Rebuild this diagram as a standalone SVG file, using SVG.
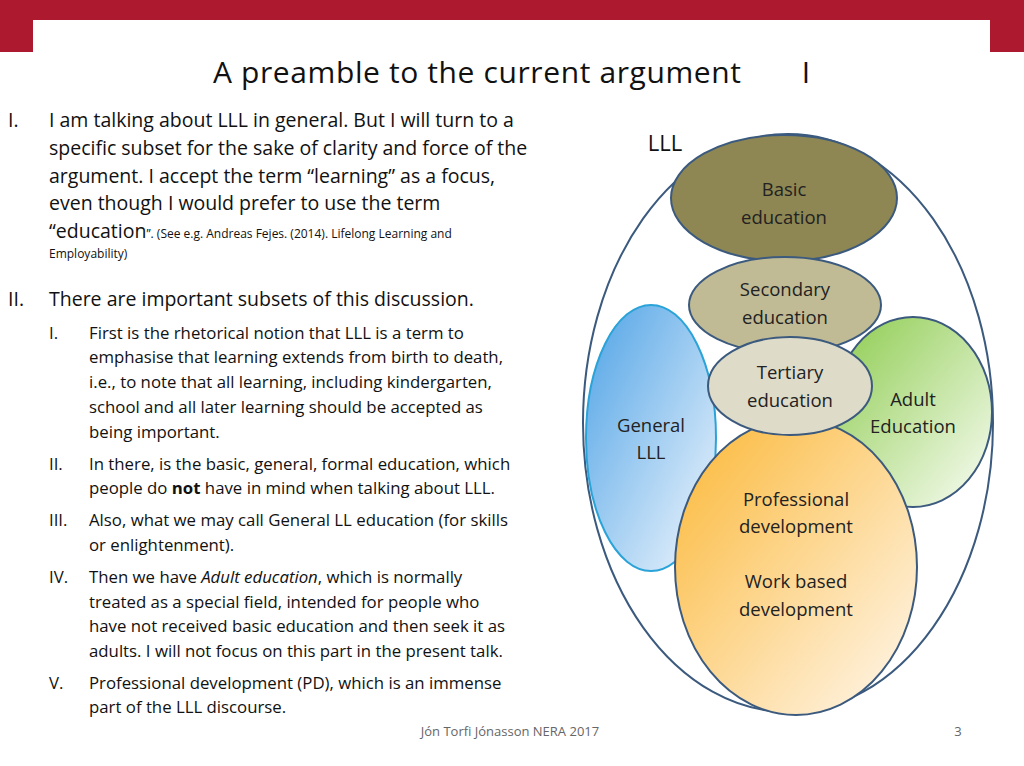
<svg xmlns="http://www.w3.org/2000/svg" width="1024" height="766" viewBox="0 0 1024 766">
<style>
text{font-family:"Open Sans","Liberation Sans",sans-serif;fill:#111}
.b{font-size:19.5px}
.s{font-size:16.8px}
.n{font-size:18.5px;text-anchor:middle;fill:#222}
.e{stroke:#3b5a7e;stroke-width:2}
</style>
<defs>
<linearGradient id="gb" x1="0" y1="0" x2="1" y2="1"><stop offset="0" stop-color="#4fa3e6"/><stop offset="1" stop-color="#f2f7fd"/></linearGradient>
<linearGradient id="gg" x1="0" y1="0" x2="1" y2="1"><stop offset="0" stop-color="#8ccb4d"/><stop offset="1" stop-color="#fafdf6"/></linearGradient>
<linearGradient id="go" x1="0" y1="0" x2="1" y2="1"><stop offset="0" stop-color="#fbb735"/><stop offset="1" stop-color="#fff8f0"/></linearGradient>
</defs>
<rect width="1024" height="766" fill="#fff"/>
<path d="M0 0H1024V52H990V20H33V52H0Z" fill="#ad1a30"/>
<text x="477" y="83" font-size="30" text-anchor="middle" textLength="528">A preamble to the current argument</text>
<text x="806" y="83" font-size="30" text-anchor="middle">I</text>
<g id="text-left">
<text class="b" x="8" y="127">I.</text>
<text class="b" x="49" y="127">I am talking about LLL in general. But I will turn to a</text>
<text class="b" x="49" y="155">specific subset for the sake of clarity and force of the</text>
<text class="b" x="49" y="183">argument. I accept the term “learning” as a focus,</text>
<text class="b" x="49" y="210">even though I would prefer to use the term</text>
<text x="49" y="238"><tspan class="b">“education</tspan><tspan font-size="12">”.  (See e.g. Andreas Fejes. (2014). Lifelong Learning and</tspan></text>
<text x="49" y="258" font-size="12">Employability)</text>
<text class="b" x="8" y="306">II.</text>
<text class="b" x="49" y="306">There are important subsets of this discussion.</text>
<text class="s" x="49" y="339">I.</text>
<text class="s" x="89" y="339">First is the rhetorical notion that LLL is a term to</text>
<text class="s" x="89" y="363">emphasise that learning extends from birth to death,</text>
<text class="s" x="89" y="388">i.e., to note that all learning, including kindergarten,</text>
<text class="s" x="89" y="413">school and all later learning should be accepted as</text>
<text class="s" x="89" y="438">being important.</text>
<text class="s" x="49" y="470">II.</text>
<text class="s" x="89" y="470">In there, is the basic, general, formal education, which</text>
<text class="s" x="89" y="494">people do <tspan font-weight="bold">not</tspan> have in mind when talking about LLL.</text>
<text class="s" x="49" y="526">III.</text>
<text class="s" x="89" y="526">Also, what we may call General LL education (for skills</text>
<text class="s" x="89" y="551">or enlightenment).</text>
<text class="s" x="49" y="583">IV.</text>
<text class="s" x="89" y="583">Then we have <tspan font-style="italic">Adult education</tspan>, which is normally</text>
<text class="s" x="89" y="608">treated as a special field, intended for people who</text>
<text class="s" x="89" y="632">have not received basic education and then seek it as</text>
<text class="s" x="89" y="657">adults. I will not focus on this part in the present talk.</text>
<text class="s" x="49" y="689">V.</text>
<text class="s" x="89" y="689">Professional development (PD), which is an immense</text>
<text class="s" x="89" y="713">part of  the LLL discourse.</text>
</g>
<g id="lll"><ellipse class="e" cx="788" cy="423" rx="205" ry="289" fill="none"/><text x="665" y="151" font-size="22" text-anchor="middle">LLL</text></g>
<g id="general"><ellipse cx="651" cy="438" rx="65" ry="133" fill="url(#gb)" stroke="#2aa3d8" stroke-width="2"/><text class="n" x="651" y="432">General</text><text class="n" x="651" y="459">LLL</text></g>
<g id="adult"><ellipse class="e" cx="913" cy="412" rx="79" ry="95" fill="url(#gg)"/><text class="n" x="913" y="406">Adult</text><text class="n" x="913" y="433">Education</text></g>
<g id="prof"><ellipse class="e" cx="796" cy="567" rx="121" ry="148" fill="url(#go)"/><text class="n" x="796" y="506">Professional</text><text class="n" x="796" y="533">development</text><text class="n" x="796" y="588">Work based</text><text class="n" x="796" y="616">development</text></g>
<g id="basic"><ellipse class="e" cx="784" cy="198" rx="113" ry="63" fill="#8e8753"/><text class="n" x="784" y="196">Basic</text><text class="n" x="784" y="224">education</text></g>
<g id="secondary"><ellipse class="e" cx="785" cy="305" rx="96" ry="48" fill="#c0bb95"/><text class="n" x="785" y="296">Secondary</text><text class="n" x="785" y="324">education</text></g>
<g id="tertiary"><ellipse class="e" cx="790" cy="386" rx="82" ry="49" fill="#dedbc8"/><text class="n" x="790" y="379">Tertiary</text><text class="n" x="790" y="407">education</text></g>
<text x="510" y="736" font-size="13" text-anchor="middle" style="fill:#666">Jón Torfi Jónasson  NERA 2017</text>
<text x="958" y="736" font-size="13" text-anchor="middle" style="fill:#666">3</text>
</svg>
